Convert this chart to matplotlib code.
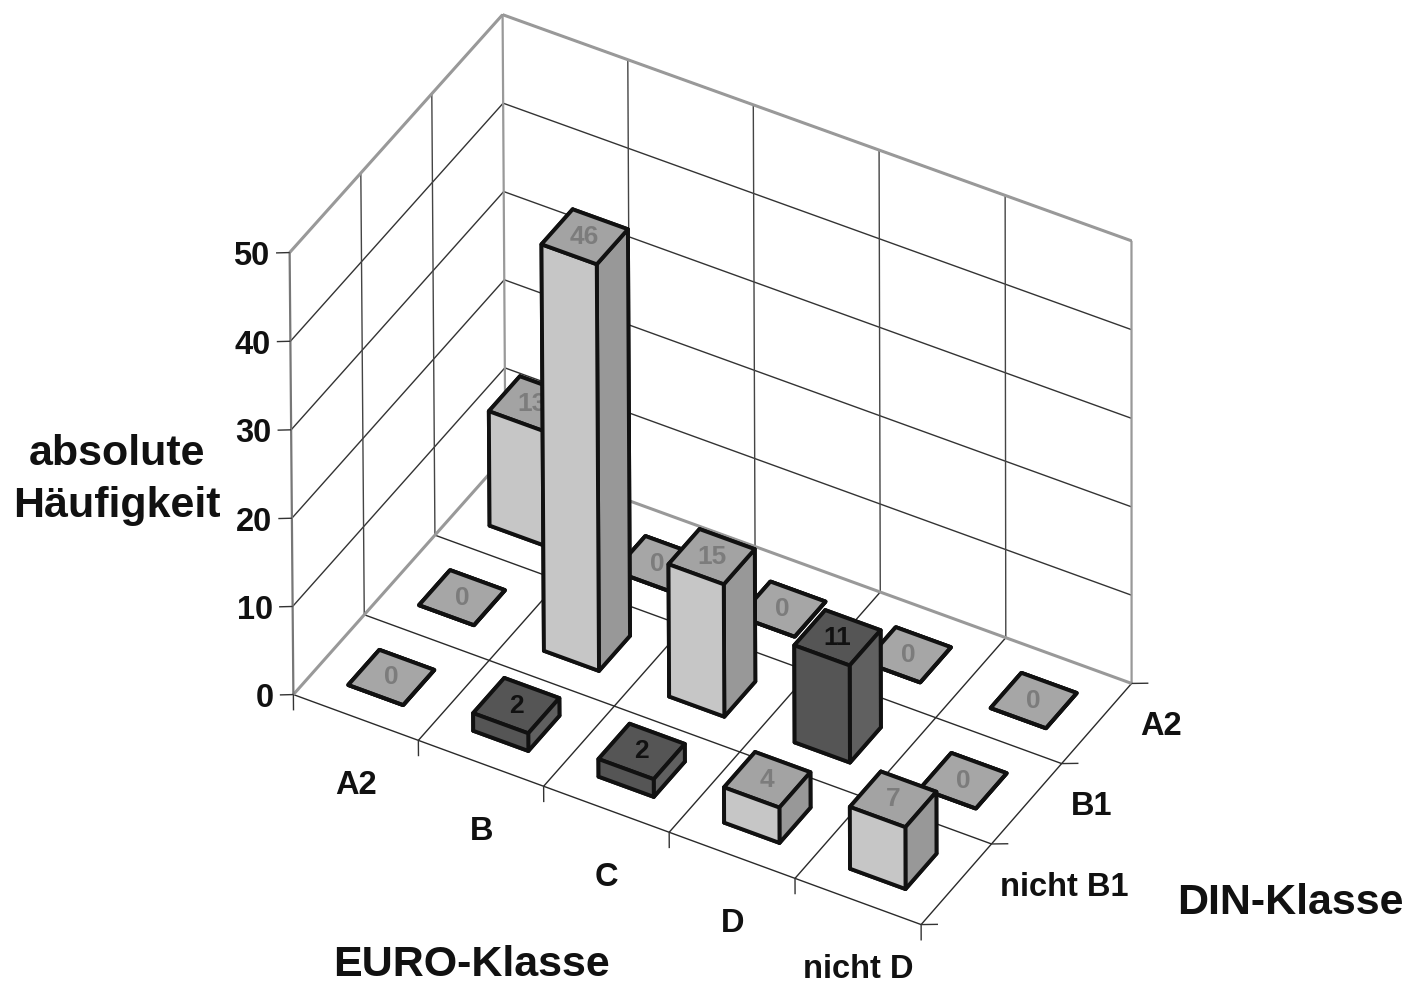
import numpy as np
import matplotlib
matplotlib.use('Agg')
import matplotlib.pyplot as plt
from mpl_toolkits.mplot3d import proj3d
from mpl_toolkits.mplot3d.art3d import Line3DCollection

plt.rcParams['font.family'] = ['Liberation Sans', 'DejaVu Sans']

euro_klassen = ['A2', 'B', 'C', 'D', 'nicht D']
din_klassen = ['nicht B1', 'B1', 'A2']  # von vorne nach hinten
z_ticks = [0, 10, 20, 30, 40, 50]

werte_nicht_b1 = [0, 2, 2, 4, 7]
werte_b1 = [0, 46, 15, 11, 0]
werte_a2 = [13, 0, 0, 0, 0]
werte = [werte_nicht_b1, werte_b1, werte_a2]

W, H = 1408, 983
nx, ny, zmax = len(euro_klassen), len(din_klassen), z_ticks[-1]

# Kamera: Weltpunkte (x, y, z) -> Bildpixel, daraus die Projektion bestimmen
welt = [(0, 0, 0), (5, 0, 0), (5, 3, 0), (0, 3, 0), (0, 0, 50), (0, 3, 50), (5, 3, 50),
        (1, 0, 0), (2, 0, 0), (3, 0, 0), (4, 0, 0), (5, 1, 0), (5, 2, 0), (0, 1, 0), (0, 2, 0),
        (1, 3, 50), (2, 3, 50), (3, 3, 50), (4, 3, 50)]
bild = [(293, 693), (920, 925), (1133, 683), (503, 462), (289, 253), (502, 14), (1130, 240),
        (420, 741), (545, 787), (668, 834), (795, 880), (991, 843), (1062, 762), (365, 613), (435, 530),
        (628, 60), (755, 105), (880, 150), (1005, 196)]
A = []
b = []
for (x, y, z), (u, v) in zip(welt, bild):
    A.append([x, y, z, 1, 0, 0, 0, 0, -u * x, -u * y, -u * z])
    A.append([0, 0, 0, 0, x, y, z, 1, -v * x, -v * y, -v * z])
    b += [u, v]
p = np.linalg.lstsq(np.array(A, float), np.array(b, float), rcond=None)[0]
M = np.array([[p[0], p[1], p[2], p[3]],
              [p[4], p[5], p[6], p[7]],
              [-0.5, 1.0, -0.02, 5.0],  # Tiefe, nur zum Sortieren der Flaechen
              [p[8], p[9], p[10], 1.0]])

fig = plt.figure(figsize=(W / 100, H / 100), dpi=100)
ax = fig.add_axes([0, 0, 1, 1], projection='3d', computed_zorder=False)
ax.get_proj = lambda: M
ax.apply_aspect = lambda position=None: None
ax.set_xticks([])
ax.set_yticks([])
ax.set_zticks([])
ax.set_axis_off()


def linie(x, y, z, c='#2a2a2a', lw=1.0):
    seg = [list(zip(x, y, z))]
    ax.add_collection3d(Line3DCollection(seg, colors=c, linewidths=lw, zorder=1))


def text(x, y, z, s, **kw):
    # Text an die projizierte Stelle setzen
    u, v, _ = proj3d.proj_transform(x, y, z, M)
    ax.text2D(u / W, 1 - v / H, s, transform=ax.transAxes, **kw)


# Gitter Boden
for i in range(1, nx):
    linie([i, i], [0, ny], [0, 0])
for j in range(1, ny):
    linie([0, nx], [j, j], [0, 0])
linie([0, nx], [0, 0], [0, 0])
linie([nx, nx], [0, ny], [0, 0])
# Gitter Waende
for t in z_ticks[1:]:
    linie([0, 0], [0, ny], [t, t], c='#333333')
    linie([0, nx], [ny, ny], [t, t], c='#333333')
for j in range(1, ny):
    linie([0, 0], [j, j], [0, zmax], c='#444444')
for i in range(1, nx):
    linie([i, i], [ny, ny], [0, zmax], c='#444444')
# Kanten der Waende
linie([0, 0], [0, ny], [0, 0], c='#999999', lw=2.2)
linie([0, nx], [ny, ny], [0, 0], c='#999999', lw=2.2)
linie([0, 0], [0, ny], [zmax, zmax], c='#999999', lw=2.2)
linie([0, nx], [ny, ny], [zmax, zmax], c='#999999', lw=2.2)
linie([0, 0], [0, 0], [0, zmax], c='#777777', lw=1.6)
linie([0, 0], [ny, ny], [0, zmax], c='#999999', lw=1.6)
linie([nx, nx], [ny, ny], [0, zmax], c='#999999', lw=1.6)

# Ticks
for t in z_ticks:
    linie([0, -0.08], [0, -0.05], [t, t], c='#333333')
    text(-0.12, -0.07, t - 0.45, str(t), ha='right', va='center', fontsize=23.5, fontweight='bold', color='#111111')
for i in range(nx + 1):
    linie([i, i], [0, 0], [0, -1.8], c='#333333')
for j in range(ny + 1):
    linie([nx, nx + 0.1], [j, j + 0.06], [0, 0], c='#333333')
for i, name in enumerate(euro_klassen):
    text(i + 0.5, 0, -7.7, name, ha='center', va='center', fontsize=23.5, fontweight='bold', color='#111111')
for j, name in enumerate(din_klassen):
    text(nx + 0.26, j + 0.66, -0.45, name, ha='left', va='center', fontsize=23.5, fontweight='bold', color='#111111')

# Balken, hinten links zuerst
breite = 0.44
for j in range(ny):
    for i in range(nx):
        wert = werte[j][i]
        dunkel = wert in (2, 11)
        if wert == 0:
            farben = ['#a6a6a6'] * 6
        elif dunkel:
            farben = ['#4f4f4f', '#555555', '#555555', '#555555', '#606060', '#606060']
        else:
            farben = ['#a0a0a0', '#a3a3a3', '#c6c6c6', '#c6c6c6', '#989898', '#989898']
        z0 = 10 + 2 * (i - j)
        ax.bar3d(i + 0.5 - breite / 2, j + 0.5 - breite / 2, 0, breite, breite, wert, color=farben,
                 shade=False, edgecolor='#111111', linewidth=2.8, zorder=z0)
        text(i + 0.5, j + 0.5, wert, str(wert), ha='center', va='center', fontsize=19, fontweight='bold',
             color='#111111' if dunkel else '#7c7c7c', zorder=z0 + 1)

ax.viewLim.intervalx = (0, W)
ax.viewLim.intervaly = (H, 0)

fig.text(117 / W, 1 - 480 / H, 'absolute\nHäufigkeit', ha='center', va='center', fontsize=31,
         fontweight='bold', color='#111111', linespacing=1.4)
fig.text(471 / W, 1 - 965 / H, 'EURO-Klasse', ha='center', va='center', fontsize=31,
         fontweight='bold', color='#111111')
fig.text(1290 / W, 1 - 903 / H, 'DIN-Klasse', ha='center', va='center', fontsize=31,
         fontweight='bold', color='#111111')

fig.savefig('out.png', dpi=100)
